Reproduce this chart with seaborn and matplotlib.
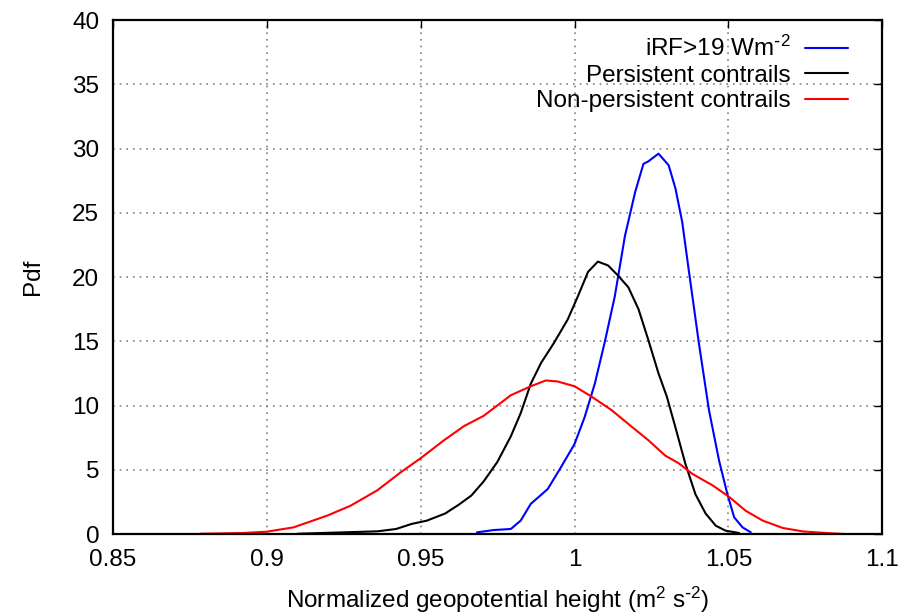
import pandas as pd
import matplotlib
matplotlib.use("Agg")
import matplotlib.pyplot as plt
import seaborn as sns

# values
irf_x = [0.9683, 0.9738, 0.9793, 0.9825, 0.9858, 0.9913, 0.9956, 1.0, 1.0033, 1.0066,
         1.0098, 1.0131, 1.0164, 1.0197, 1.0224, 1.024, 1.0273, 1.0306, 1.0328, 1.035,
         1.0371, 1.0404, 1.0437, 1.047, 1.0497, 1.0519, 1.0546, 1.0573]
irf_y = [0.13, 0.31, 0.39, 1.04, 2.35, 3.5, 5.2, 7.0, 9.1, 11.7,
         14.9, 18.5, 23.2, 26.6, 28.8, 29.0, 29.6, 28.7, 26.9, 24.3,
         20.6, 14.9, 9.65, 5.7, 3.1, 1.3, 0.52, 0.13]

pers_x = [0.91, 0.914, 0.925, 0.936, 0.942, 0.947, 0.952, 0.958, 0.9625, 0.9665,
          0.9705, 0.9749, 0.9793, 0.9825, 0.9858, 0.9891, 0.9934, 0.9978, 1.0011, 1.0044,
          1.0076, 1.0109, 1.0142, 1.0175, 1.0208, 1.024, 1.0273, 1.03, 1.0328, 1.036,
          1.0393, 1.0426, 1.0459, 1.0491, 1.0535]
pers_y = [0.02, 0.05, 0.13, 0.21, 0.39, 0.78, 1.04, 1.6, 2.3, 3.0,
          4.1, 5.6, 7.6, 9.4, 11.7, 13.3, 14.9, 16.7, 18.5, 20.4,
          21.2, 20.9, 20.1, 19.2, 17.5, 15.1, 12.5, 10.7, 8.3, 5.5,
          3.1, 1.6, 0.65, 0.26, 0.08]

nonpers_x = [0.8783, 0.8924, 0.9, 0.9087, 0.9196, 0.9272, 0.9359, 0.9435, 0.95, 0.9576,
             0.9641, 0.9705, 0.9749, 0.9793, 0.9858, 0.9907, 0.9945, 1.0, 1.0055, 1.012,
             1.0186, 1.024, 1.0295, 1.0339, 1.0382, 1.0418, 1.0448, 1.0502, 1.0557, 1.0612,
             1.0677, 1.0743, 1.085, 1.088]
nonpers_y = [0.02, 0.08, 0.18, 0.52, 1.43, 2.2, 3.4, 4.8, 5.9, 7.3,
             8.4, 9.2, 10.0, 10.8, 11.5, 11.95, 11.87, 11.5, 10.7, 9.65,
             8.35, 7.3, 6.1, 5.5, 4.7, 4.2, 3.8, 2.9, 1.8, 1.04,
             0.47, 0.2, 0.03, 0.0]

labels = ["iRF>19 Wm$^{\\text{-}2}$", "Persistent contrails", "Non-persistent contrails"]
colors = ["#0000ff", "#000000", "#ff0000"]

x_ticks = [0.85, 0.9, 0.95, 1.0, 1.05, 1.1]
x_tick_labels = ["0.85", "0.9", "0.95", "1", "1.05", "1.1"]
y_ticks = [0, 5, 10, 15, 20, 25, 30, 35, 40]

df = pd.concat([
    pd.DataFrame({"x": irf_x, "y": irf_y, "series": labels[0]}),
    pd.DataFrame({"x": pers_x, "y": pers_y, "series": labels[1]}),
    pd.DataFrame({"x": nonpers_x, "y": nonpers_y, "series": labels[2]}),
])

sns.set_style("white")
plt.rcParams["font.family"] = ["Liberation Sans", "DejaVu Sans"]
plt.rcParams["mathtext.default"] = "regular"
plt.rcParams["text.color"] = "black"
plt.rcParams["axes.labelcolor"] = "black"
fs = 17.5

fig = plt.figure(figsize=(9.02, 6.16), dpi=100)
ax = fig.add_axes([0.1253, 0.1331, 0.978 - 0.1253, 0.9675 - 0.1331])

sns.lineplot(data=df, x="x", y="y", hue="series", hue_order=labels,
             palette=dict(zip(labels, colors)), sort=False, estimator=None,
             linewidth=1.5, ax=ax)

ax.set_xlim(0.85, 1.1)
ax.set_ylim(0, 40)
ax.set_xticks(x_ticks)
ax.set_xticklabels(x_tick_labels)
ax.set_yticks(y_ticks)
ax.tick_params(direction="in", length=6, width=1, top=True, right=True,
               labelsize=fs, colors="black")
ax.tick_params(axis="x", pad=11)
ax.tick_params(axis="y", pad=10)
ax.grid(True, color="#808080", linestyle=(0, (1, 3)), linewidth=1.2)
for s in ax.spines.values():
    s.set_visible(True)
    s.set_color("black")
    s.set_linewidth(1.6)

ax.set_xlabel("Normalized geopotential height (m$^2$ s$^{\\text{-}2}$)", fontsize=fs, labelpad=10)
ax.set_ylabel("Pdf", fontsize=fs, labelpad=20)

leg = ax.legend(loc="upper right", bbox_to_anchor=(0.956, 0.969), frameon=False,
                markerfirst=False, fontsize=fs, handlelength=1.77, handletextpad=0.6,
                labelspacing=0.15, borderaxespad=0.0, borderpad=0.0)
for t in leg.get_texts():
    t.set_color("black")

fig.savefig("out.png", dpi=100)
